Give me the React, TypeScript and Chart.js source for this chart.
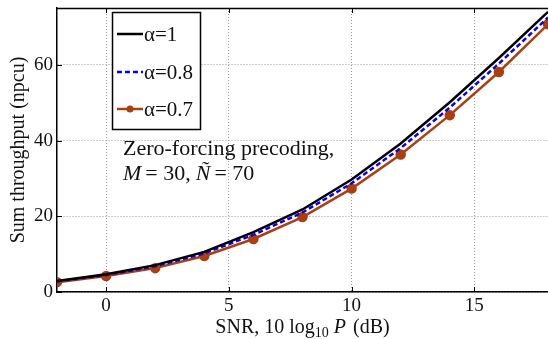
import React, { useEffect, useRef } from "react";
import { Chart, registerables } from "chart.js";

Chart.register(...registerables);

const snrDb = [-2, 0, 2, 4, 6, 8, 10, 12, 14, 16, 18];
const alpha1 = [2.9, 4.7, 7.1, 10.6, 15.8, 21.8, 29.7, 39.2, 50.1, 61.8, 74.0];
const alpha08 = [2.8, 4.5, 6.8, 10.2, 15.1, 21.0, 28.7, 38.0, 48.7, 60.3, 72.5];
const alpha07 = [2.6, 4.2, 6.3, 9.5, 14.0, 19.8, 27.3, 36.3, 46.7, 58.1, 70.7];
const xTicks = [0, 5, 10, 15];
const yTicks = [0, 20, 40, 60];
const legendLabels = ["\u03b1=1", "\u03b1=0.8", "\u03b1=0.7"];

const BLACK = "#000000";
const BLUE = "#0000ff";
const ORANGE = "#ac3f0d";
const SERIF = "'Liberation Serif', 'DejaVu Serif', serif";

export default function App() {
  const ref = useRef<HTMLCanvasElement | null>(null);

  useEffect(() => {
    document.body.style.margin = "0";
    const canvas = ref.current;
    if (!canvas) return;

    const overlay = {
      id: "overlay",
      afterDraw(chart: any) {
        const ctx = chart.ctx as CanvasRenderingContext2D;
        const a = chart.chartArea;
        const sx = chart.scales.x;
        const sy = chart.scales.y;
        ctx.save();
        // top border
        ctx.strokeStyle = "#000";
        ctx.lineWidth = 1.5;
        ctx.beginPath();
        ctx.moveTo(a.left, a.top + 0.5);
        ctx.lineTo(a.right, a.top + 0.5);
        ctx.stroke();

        // inward tick marks
        ctx.lineWidth = 1;
        ctx.beginPath();
        for (const v of xTicks) {
          const px = Math.round(sx.getPixelForValue(v)) + 0.5;
          ctx.moveTo(px, a.bottom);
          ctx.lineTo(px, a.bottom - 5);
          ctx.moveTo(px, a.top);
          ctx.lineTo(px, a.top + 5);
        }
        for (const v of yTicks) {
          const py = Math.round(sy.getPixelForValue(v)) + 0.5;
          ctx.moveTo(a.left, py);
          ctx.lineTo(a.left + 5, py);
        }
        ctx.stroke();

        // annotation text
        ctx.fillStyle = "#111";
        ctx.textBaseline = "alphabetic";
        ctx.textAlign = "left";
        ctx.font = `22px ${SERIF}`;
        ctx.fillText("Zero-forcing precoding,", 123, 155);
        let x = 123;
        const y2 = 180;
        const draw = (t: string, font: string, gap = 0) => {
          ctx.font = font;
          ctx.fillText(t, x, y2);
          x += ctx.measureText(t).width + gap;
        };
        draw("M", `italic 22px ${SERIF}`, 4);
        draw("= 30,", `22px ${SERIF}`, 5);
        draw("\u00d1", `italic 22px ${SERIF}`, 4);
        draw("= 70", `22px ${SERIF}`);

        // x axis title
        const parts: [string, string, number, number][] = [
          ["SNR, 10 log", `20px ${SERIF}`, 0, 0],
          ["10", `14px ${SERIF}`, 4, 5],
          ["P", `italic 20px ${SERIF}`, 0, 7],
          ["(dB)", `20px ${SERIF}`, 0, 0],
        ];
        let total = 0;
        for (const p of parts) {
          ctx.font = p[1];
          total += ctx.measureText(p[0]).width + p[3];
        }
        let tx = (a.left + a.right) / 2 - total / 2;
        for (const p of parts) {
          ctx.font = p[1];
          ctx.fillText(p[0], tx, 333 + p[2]);
          tx += ctx.measureText(p[0]).width + p[3];
        }

        // legend
        const bx = 112, by = 12, bw = 88, bh = 117;
        ctx.fillStyle = "#fff";
        ctx.fillRect(bx, by, bw, bh);
        ctx.strokeStyle = "#000";
        ctx.lineWidth = 1.5;
        ctx.strokeRect(bx + 0.5, by + 0.5, bw, bh);
        const rows = [34, 72, 109];
        const styles = [
          { c: BLACK, dash: [] as number[], w: 2.5, marker: false },
          { c: BLUE, dash: [5, 3], w: 2.5, marker: false },
          { c: ORANGE, dash: [] as number[], w: 2.5, marker: true },
        ];
        for (let i = 0; i < 3; i++) {
          const s = styles[i];
          ctx.strokeStyle = s.c;
          ctx.lineWidth = s.w;
          ctx.setLineDash(s.dash);
          ctx.beginPath();
          ctx.moveTo(117, rows[i]);
          ctx.lineTo(143, rows[i]);
          ctx.stroke();
          ctx.setLineDash([]);
          if (s.marker) {
            ctx.fillStyle = s.c;
            ctx.beginPath();
            ctx.arc(130, rows[i], 3.5, 0, Math.PI * 2);
            ctx.fill();
          }
          ctx.fillStyle = "#111";
          ctx.font = `21px ${SERIF}`;
          ctx.textBaseline = "middle";
          ctx.fillText(legendLabels[i], 144, rows[i] + 1);
        }
        ctx.restore();
      },
    };

    const chart = new Chart(canvas, {
      type: "line",
      data: {
        datasets: [
          {
            label: legendLabels[0],
            data: snrDb.map((x, i) => ({ x, y: alpha1[i] })),
            borderColor: BLACK,
            borderWidth: 2.5,
            pointRadius: 0,
            tension: 0,
          },
          {
            label: legendLabels[1],
            data: snrDb.map((x, i) => ({ x, y: alpha08[i] })),
            borderColor: BLUE,
            borderWidth: 2.5,
            borderDash: [5, 3],
            pointRadius: 0,
            tension: 0,
          },
          {
            label: legendLabels[2],
            data: snrDb.map((x, i) => ({ x, y: alpha07[i] })),
            borderColor: ORANGE,
            backgroundColor: ORANGE,
            borderWidth: 2.5,
            pointRadius: 4,
            pointBackgroundColor: ORANGE,
            pointBorderColor: ORANGE,
            tension: 0,
          },
        ],
      },
      options: {
        animation: false,
        responsive: false,
        devicePixelRatio: 1,
        layout: { autoPadding: false, padding: { left: 0, right: 0, top: 8, bottom: 0 } },
        plugins: {
          legend: { display: false },
          tooltip: { enabled: false },
        },
        scales: {
          x: {
            type: "linear",
            min: -2,
            max: 18,
            afterBuildTicks: (s: any) => {
              s.ticks = xTicks.map((v) => ({ value: v }));
            },
            afterFit: (s: any) => {
              s.height = 47;
              s.paddingLeft = 0;
              s.paddingRight = 0;
            },
            ticks: {
              color: "#111",
              font: { family: SERIF, size: 19 },
              padding: 3,
              maxRotation: 0,
            },
            grid: {
              color: "#999999",
              lineWidth: 1,
              drawTicks: false,
            },
            border: { display: true, color: "#000", width: 1.5, dash: [1, 2] },
          },
          y: {
            type: "linear",
            min: 0,
            max: 75,
            afterBuildTicks: (s: any) => {
              s.ticks = yTicks.map((v) => ({ value: v }));
            },
            afterFit: (s: any) => {
              s.width = 57;
              s.paddingTop = 0;
              s.paddingBottom = 0;
            },
            ticks: {
              color: "#111",
              font: { family: SERIF, size: 19 },
              padding: 4,
            },
            title: {
              display: true,
              text: "Sum throughput (npcu)",
              color: "#111",
              font: { family: SERIF, size: 20 },
              padding: { top: 7, bottom: 0 },
            },
            grid: {
              color: "#999999",
              lineWidth: 1,
              drawTicks: false,
            },
            border: { display: true, color: "#000", width: 1.5, dash: [1, 2] },
          },
        },
      },
      plugins: [overlay],
    });

    return () => chart.destroy();
  }, []);

  return (
    <div style={{ width: 548, height: 339 }}>
      <canvas ref={ref} width={548} height={339} />
    </div>
  );
}
